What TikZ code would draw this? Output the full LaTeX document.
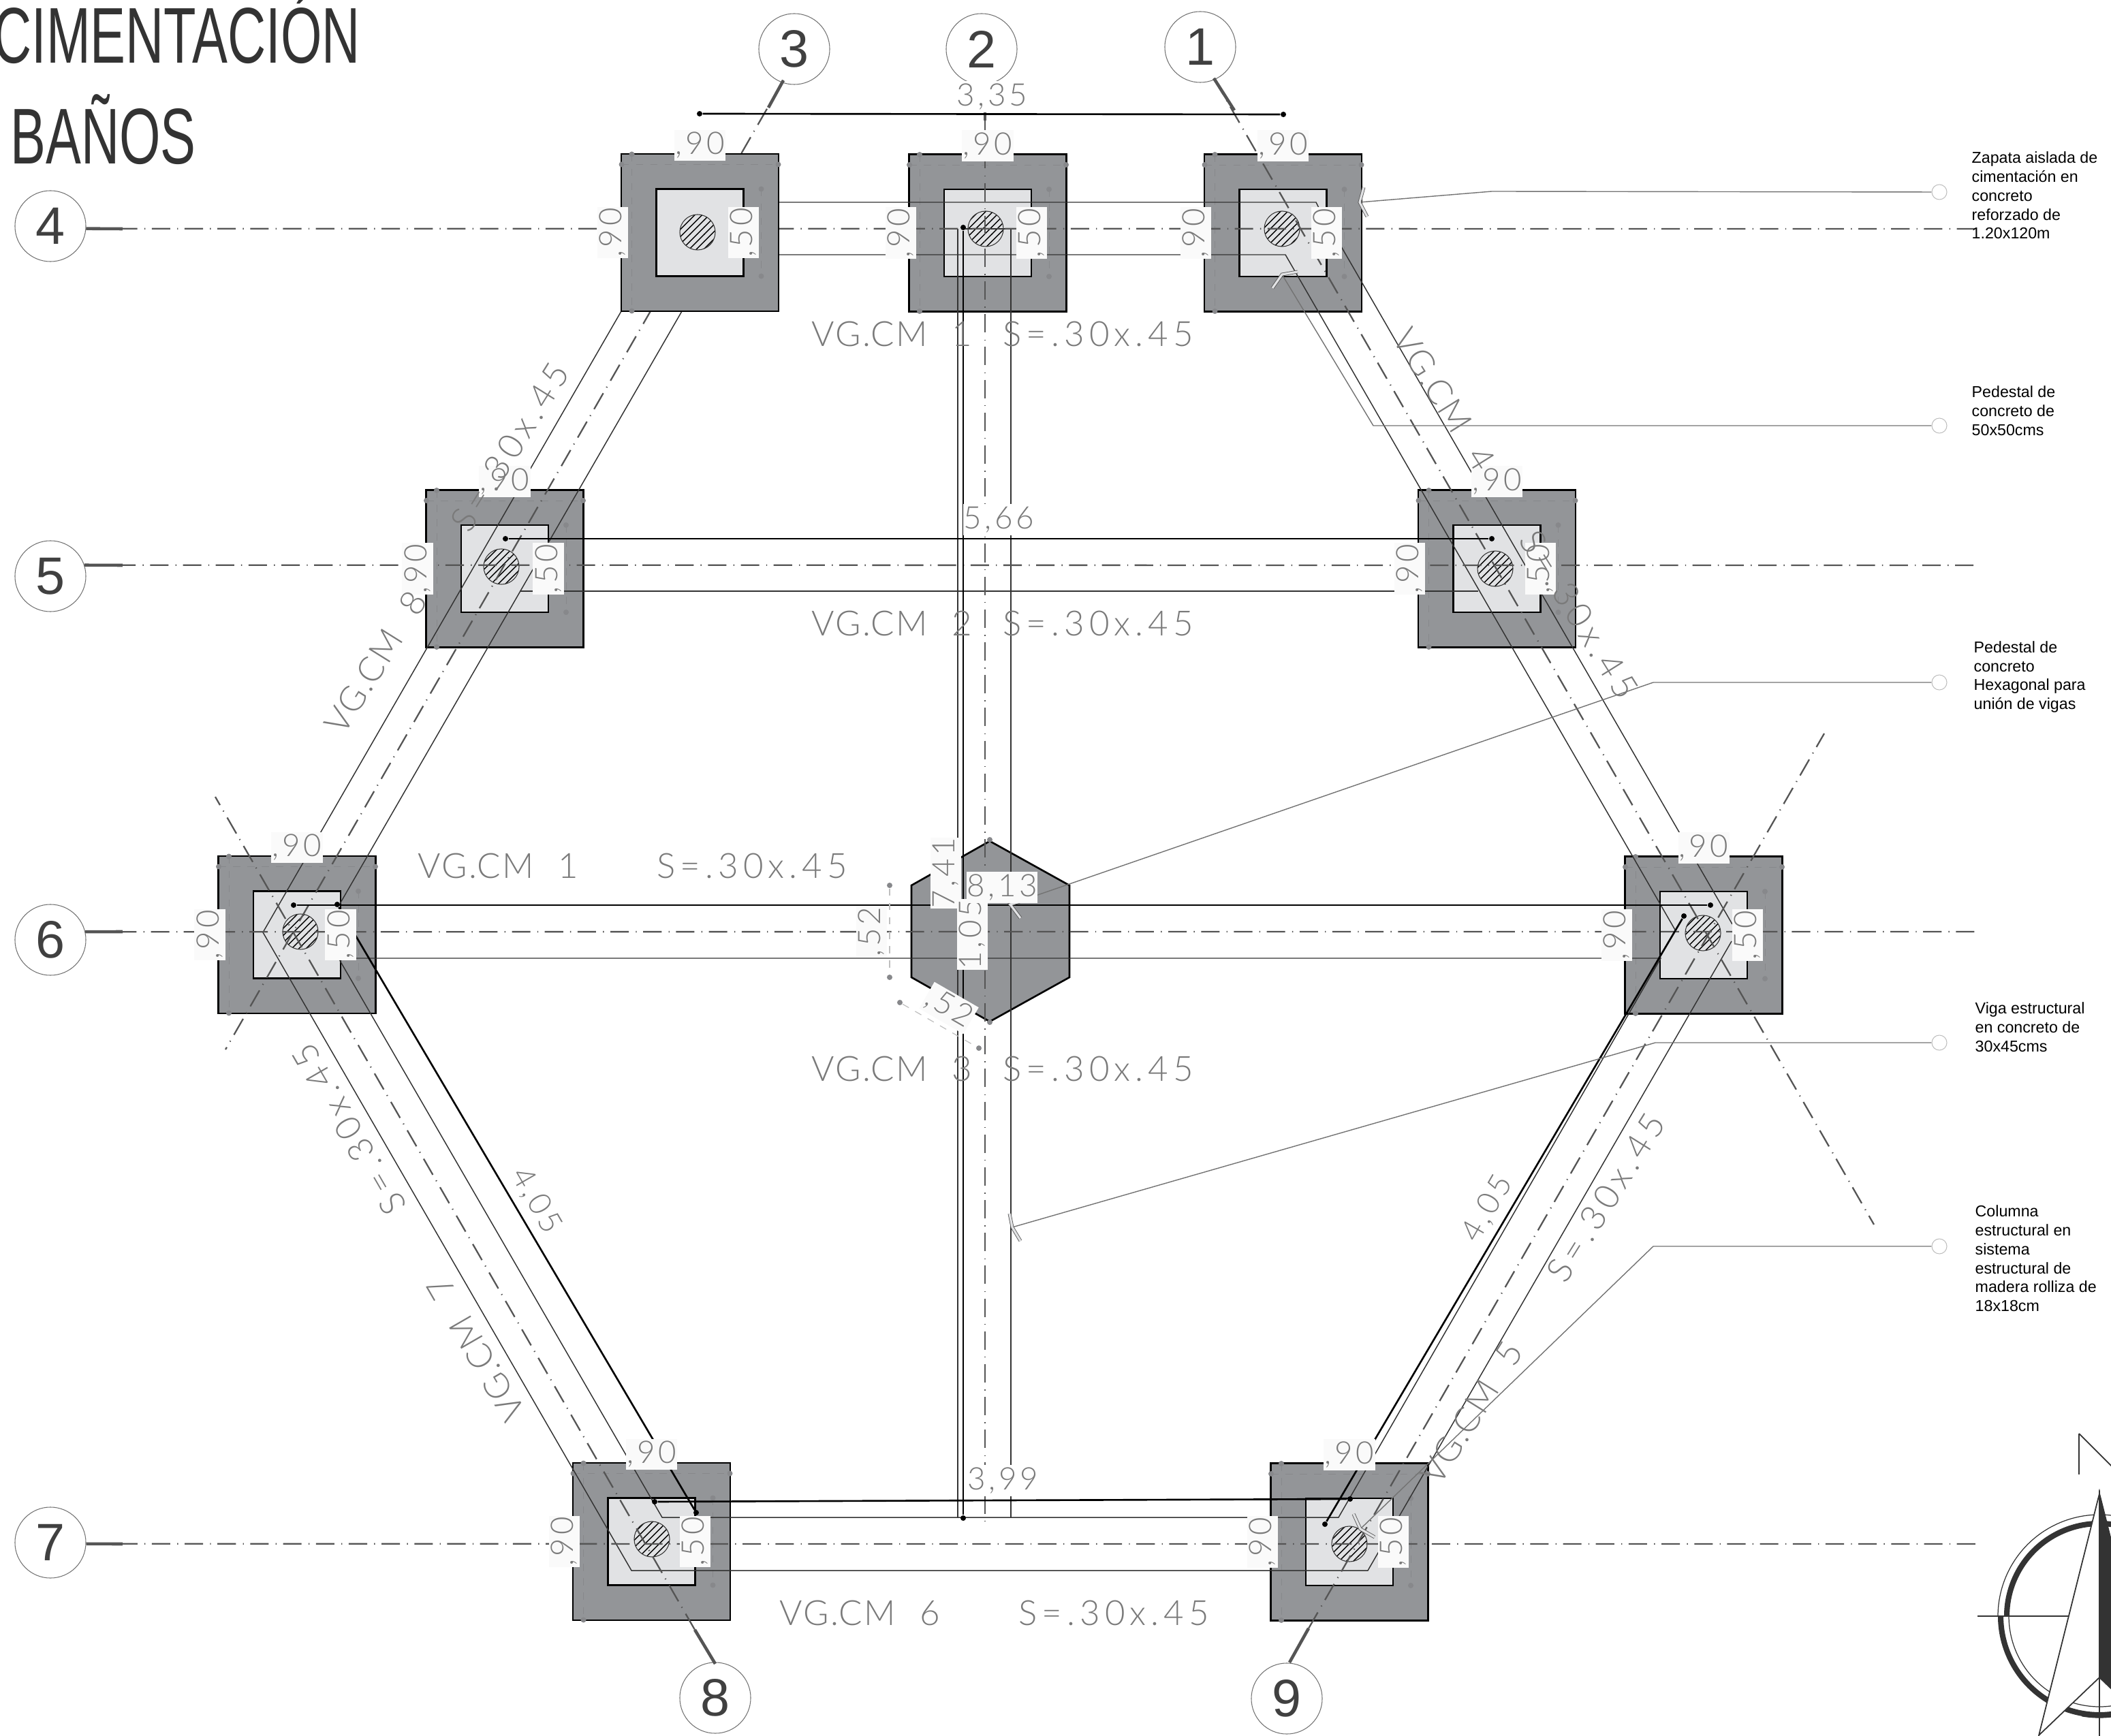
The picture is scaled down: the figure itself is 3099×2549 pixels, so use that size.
\documentclass[tikz,border=0pt]{standalone}
\usepackage{fontspec}
\usepackage{tikz}
\usetikzlibrary{patterns}
\setmainfont{Liberation Sans}
\newfontfamily\dimfont[LetterSpace=10]{Lato Light}
\definecolor{zapatagray}{HTML}{939598}
\definecolor{pedestalgray}{HTML}{E1E2E4}
\definecolor{labelwhite}{HTML}{FAFAFA}
\definecolor{textgray}{HTML}{7A7A7A}
\definecolor{axisgray}{HTML}{555555}
\definecolor{markgray}{HTML}{87888B}
\definecolor{darkink}{HTML}{333333}
\tikzset{
  zapatabox/.style={draw=black,line width=.75pt,fill=zapatagray,minimum size=2.31cm,inner sep=0pt},
  pedestalbox/.style={draw=black,line width=.75pt,fill=pedestalgray,minimum size=1.28cm,inner sep=0pt},
  columncirc/.style={circle,draw=darkink,line width=.3pt,pattern=north east lines,minimum size=.52cm,inner sep=0pt},
  hexshape/.style={draw=black,line width=.75pt,fill=zapatagray},
  beamline/.style={draw=darkink,line width=.42pt},
  axisline/.style={draw=axisgray,line width=.65pt,dash pattern=on 7.7pt off 2.9pt on .4pt off 2.7pt},
  axisstub/.style={draw=axisgray,line width=1.3pt},
  dimline/.style={draw=black,line width=.75pt},
  dimdot/.style={circle,fill=black,minimum size=.08cm,inner sep=0pt},
  markline/.style={draw=markgray,line width=.25pt,dashed},
  greydim/.style={draw=black!25,line width=.35pt,dashed},
  greydot/.style={circle,fill=markgray,minimum size=.08cm,inner sep=0pt},
  bubble/.style={circle,draw=black!55,line width=.3pt,minimum size=1.04cm,inner sep=0pt,text=black!75,font=\fontsize{22}{22}\selectfont},
  dimlabel/.style={fill=labelwhite,inner sep=0pt,minimum width=.75cm,minimum height=.45cm,text=textgray,font=\dimfont\fontsize{13}{13}\selectfont},
  widelabel/.style={dimlabel,minimum width=.95cm},
  beamlabel/.style={inner sep=0pt,text=textgray,font=\dimfont\fontsize{14.5}{14.5}\selectfont},
  leader/.style={draw=black!55,line width=.4pt},
  tickmark/.style={draw=black!65,line width=.25pt,double=pedestalgray,double distance=.9pt},
  ringend/.style={circle,draw=black!25,line width=.3pt,minimum size=.22cm,inner sep=0pt},
  notetext/.style={anchor=west,align=left,inner sep=0pt,font=\fontsize{6.6}{7.9}\selectfont},
  titletext/.style={anchor=base west,inner sep=0pt,xscale=.67,transform shape,text=darkink,font=\fontsize{33}{33}\selectfont},
}
\newcommand{\zapata}[5]{
  \node[zapatabox] (z#1) at (#2,#3) {};
  \node[pedestalbox] (p#1) at (z#1) {};
  \node[columncirc] (c#1) at (#4,#5) {};
  \draw[markline] (#2-100,#3-115) -- (#2-100,#3+115);
  \draw[markline] (#2-115,#3-100) -- (#2+115,#3-100);
  \draw[markline] (#2+90,#3-64) -- (#2+90,#3+64);
  \fill[markgray] (#2-100,#3-115) circle (4);
  \fill[markgray] (#2-100,#3+115) circle (4);
  \fill[markgray] (#2-115,#3-100) circle (4);
  \fill[markgray] (#2+115,#3-100) circle (4);
  \fill[markgray] (#2+90,#3-64) circle (4);
  \fill[markgray] (#2+90,#3+64) circle (4);
}
\newcommand{\zapatalabels}[3]{
  \node[dimlabel] (lt#1) at (#2,#3-128) {,90};
  \node[dimlabel,rotate=90] (ll#1) at (#2-128,#3) {,90};
  \node[dimlabel,rotate=90] (lr#1) at (#2+64,#3) {,50};
}
\newcommand{\vgcm}[2]{{\addfontfeature{LetterSpace=4}VG.CM}\hspace{.36cm}#1\hspace{#2}{\addfontfeature{LetterSpace=14}S=.30x.45}}
\begin{document}
\begin{tikzpicture}[x=0.01cm,y=-0.01cm]
\useasboundingbox (0,0) rectangle (3099,2549);

\zapata{2}{1450}{342}{1447}{336}
\zapata{1}{1883.5}{342}{1882}{336}
\zapata{5}{741}{835}{736}{832}
\zapata{10}{2197.5}{835}{2195}{835}
\zapata{6}{436}{1372.5}{441}{1368}
\zapata{11}{2501}{1373}{2500}{1370}
\zapata{8}{956.5}{2263.5}{957}{2260}
\zapata{9}{1981}{2264}{1981}{2267}

\draw[hexshape] (1453,1235) -- (1570,1300) -- (1570,1435) -- (1453,1500) -- (1338,1435) -- (1338,1300) -- cycle;
\fill[markgray] (1453,1233) circle (4);
\fill[markgray] (1453,1501) circle (4);

\draw[beamline] (1143,297) -- (1932,297) -- (1936,305) -- (2543,1357);
\draw[beamline] (1143,374) -- (1887,374) -- (2460,1367);
\draw[beamline] (763,868) -- (2170,868);
\draw[beamline] (497,1407) -- (2438,1407) -- (1965,2228) -- (972,2228) -- (497,1407);
\draw[beamline] (2542,1382) -- (2008,2306) -- (927,2306) -- (386,1369) -- (912,457);
\draw[beamline] (1001,457) -- (499,1327);
\draw[beamline] (1406,336) -- (1406,2228);
\draw[beamline] (1414,336) -- (1484,336) -- (1484,2228);

\node[bubble] (b1) at (1762,69) {1};
\node[bubble] (b2) at (1441,72) {2};
\node[bubble] (b3) at (1166,72) {3};
\node[bubble] (b4) at (74,332) {4};
\node[bubble] (b5) at (74,846) {5};
\node[bubble] (b6) at (74,1380) {6};
\node[bubble] (b7) at (74,2265) {7};
\node[bubble] (b8) at (1050,2493) {8};
\node[bubble] (b9) at (1889,2494) {9};

\coordinate (a1) at (2751,1798);
\coordinate (a2) at (1446,2235);
\coordinate (a3) at (331,1541);
\coordinate (a4) at (2900,336);
\coordinate (a5) at (2905,830);
\coordinate (a6) at (2905,1368);
\coordinate (a7) at (2905,2267);
\coordinate (a8) at (316,1170);
\coordinate (a9) at (2678,1077);

\draw[axisline] (1782,115) -- (a1);
\draw[axisline] (1446,124) -- (a2);
\draw[axisline] (1150,118) -- (a3);
\draw[axisline] (b4.-4) -- (a4);
\draw[axisline] (b5.18) -- (a5);
\draw[axisline] (b6.13) -- (a6);
\draw[axisline] (b7.-2) -- (a7);
\draw[axisline] (1020,2393) -- (a8);
\draw[axisline] (1921,2391) -- (a9);

\draw[axisstub] (1782,115) -- (1812,162);
\draw[axisstub] (1446,124) -- (1446,177);
\draw[axisstub] (1150,118) -- (1128,158);
\draw[axisstub] (b4.-4) -- (180,336);
\draw[axisstub] (b5.18) -- (180,830);
\draw[axisstub] (b6.13) -- (180,1368);
\draw[axisstub] (b7.-2) -- (180,2267);
\draw[axisstub] (1050,2443) -- (1020,2393);
\draw[axisstub] (1893,2441) -- (1921,2391);

\node[dimdot] (d1a) at (1027,167) {};
\node[dimdot] (d1b) at (1884,168) {};
\node[dimdot] (d2a) at (742,791) {};
\node[dimdot] (d2b) at (2190,791) {};
\node[dimdot] (d3a) at (431,1329) {};
\node[dimdot] (d3b) at (2511,1329) {};
\node[dimdot] (d4a) at (495,1328) {};
\node[dimdot] (d4b) at (1022,2221) {};
\node[dimdot] (d5a) at (2472,1345) {};
\node[dimdot] (d5b) at (1945,2238) {};
\node[dimdot] (d6a) at (961,2205) {};
\node[dimdot] (d6b) at (1982,2201) {};
\node[dimdot] (d7a) at (1414,334) {};
\node[dimdot] (d7b) at (1414,2229) {};
\draw[dimline] (d1a) -- (d1b);
\draw[dimline] (d2a) -- (d2b);
\draw[dimline] (d3a) -- (d3b);
\draw[dimline] (d4a) -- (d4b);
\draw[dimline] (d5a) -- (d5b);
\draw[dimline] (d6a) -- (d6b);
\draw[dimline] (d7a) -- (d7b);

\node[greydot] (h1a) at (1306,1300) {};
\node[greydot] (h1b) at (1306,1435) {};
\node[greydot] (h2a) at (1321,1472) {};
\node[greydot] (h2b) at (1437,1539) {};
\draw[greydim] (h1a) -- (h1b);
\draw[greydim] (h2a) -- (h2b);

\zapata{3}{1027.5}{341.5}{1024}{341}

\node[ringend] (r1) at (2847,282) {};
\node[ringend] (r2) at (2847,625) {};
\node[ringend] (r3) at (2847,1002) {};
\node[ringend] (r4) at (2847,1531) {};
\node[ringend] (r5) at (2847,1830) {};
\coordinate (l1) at (1996,297);
\coordinate (l2) at (1882,403);
\coordinate (l3) at (1483,1328);
\coordinate (l4) at (1486,1802);
\coordinate (l5) at (1997,2245);
\draw[leader] (l1) -- (2190,281) -- (r1);
\draw[leader] (l2) -- (2016,625) -- (r2);
\draw[leader] (l3) -- (2427,1002) -- (r3);
\draw[leader] (l4) -- (2430,1531) -- (r4);
\draw[leader] (l5) -- (2427,1830) -- (r5);
\draw[tickmark] (2002,275) -- (l1) -- (2007,318);
\draw[tickmark] (1905,399) -- (l2) -- (1868,423);
\draw[tickmark] (1497,1324) -- (l3) -- (1498,1348);
\draw[tickmark] (1482,1782) -- (l4) -- (1498,1822);
\draw[tickmark] (1987,2223) -- (l5) -- (2018,2257);

\zapatalabels{3}{1027.5}{341.5}
\zapatalabels{2}{1450}{342}
\zapatalabels{1}{1883.5}{342}
\zapatalabels{5}{741}{835}
\zapatalabels{10}{2197.5}{835}
\zapatalabels{6}{436}{1372.5}
\zapatalabels{11}{2501}{1373}
\zapatalabels{8}{956.5}{2263.5}
\zapatalabels{9}{1981}{2264}

\node[widelabel,fill=white] (m1) at (1456,142) {3,35};
\node[widelabel,fill=white] (m2) at (1466,763) {5,66};
\node[widelabel,fill=white] (m6) at (1472,2174) {3,99};
\node[widelabel,rotate=90] (m7) at (1388,1282) {7,41};
\node[widelabel,rotate=90] (m9) at (1427,1372) {1,05};
\node[widelabel] (m8) at (1471,1303) {8,13};
\node[dimlabel,rotate=90] (m10) at (1279,1368) {,52};
\node[dimlabel,rotate=-30] (m11) at (1393,1480) {,52};
\node[widelabel,rotate=-60,fill=none] (m4) at (787,1763) {4,05};
\node[widelabel,rotate=60,fill=none] (m5) at (2184,1775) {4,05};

\node[beamlabel] (v1) at (1472,490) {\vgcm{1}{.45cm}};
\node[beamlabel] (v2) at (1472,915) {\vgcm{2}{.45cm}};
\node[beamlabel] (v3) at (1472,1569) {\vgcm{3}{.45cm}};
\node[beamlabel] (v4) at (929,1271) {\vgcm{1}{1.15cm}};
\node[beamlabel] (v5) at (1460,2368) {\vgcm{6}{1.15cm}};
\node[beamlabel,rotate=58] (v6) at (656,805) {\vgcm{8}{1.15cm}};
\node[beamlabel,rotate=-58] (v7) at (2225,754) {\vgcm{4}{1.15cm}};
\node[beamlabel,rotate=58] (v8) at (2265,1907) {\vgcm{5}{1.15cm}};
\node[beamlabel,rotate=120] (v9) at (600,1810) {\vgcm{7}{1.15cm}};

\node[notetext] (n1) at (2894,287) {Zapata aislada de\\cimentación en\\concreto\\reforzado de\\1.20x120m};
\node[notetext] (n2) at (2894,603) {Pedestal de\\concreto de\\50x50cms};
\node[notetext] (n3) at (2897,994) {Pedestal de\\concreto\\Hexagonal para\\unión de vigas};
\node[notetext] (n4) at (2899,1508) {Viga estructural\\en concreto de\\30x45cms};
\node[notetext] (n5) at (2899,1848) {Columna\\estructural en\\sistema\\estructural de\\madera rolliza de\\18x18cm};

\node[titletext] (t1) at (-10,93) {CIMENTACIÓN};
\node[titletext] (t2) at (15,241) {BAÑOS};

\begin{scope}[shift={(3082,2373)},x=0.01cm,y=0.01cm]
\draw[darkink,line width=.35pt] (180:149) arc (180:70:149);
\draw[darkink,line width=2.3pt] (180:136) arc (180:70:136);
\draw[darkink,line width=2.3pt] (180:145) arc (180:290:145);
\draw[darkink,line width=.35pt] (180:133) arc (180:290:133);
\draw[darkink,line width=.35pt] (260:149) arc (260:290:149);
\draw[darkink,line width=.5pt] (-179,0) -- (0,0);
\draw[darkink,line width=.5pt] (0,-90) -- (0,-176);
\filldraw[fill=white,draw=darkink,line width=.5pt] (0,180) -- (-89,-175) -- (0,-90) -- cycle;
\filldraw[fill=darkink,draw=darkink,line width=.5pt] (0,180) -- (89,-175) -- (0,-90) -- cycle;
\draw[darkink,line width=.5pt] (-30,268) -- (-30,208);
\draw[darkink,line width=.5pt] (-30,268) -- (40,198);
\end{scope}
\end{tikzpicture}
\end{document}
